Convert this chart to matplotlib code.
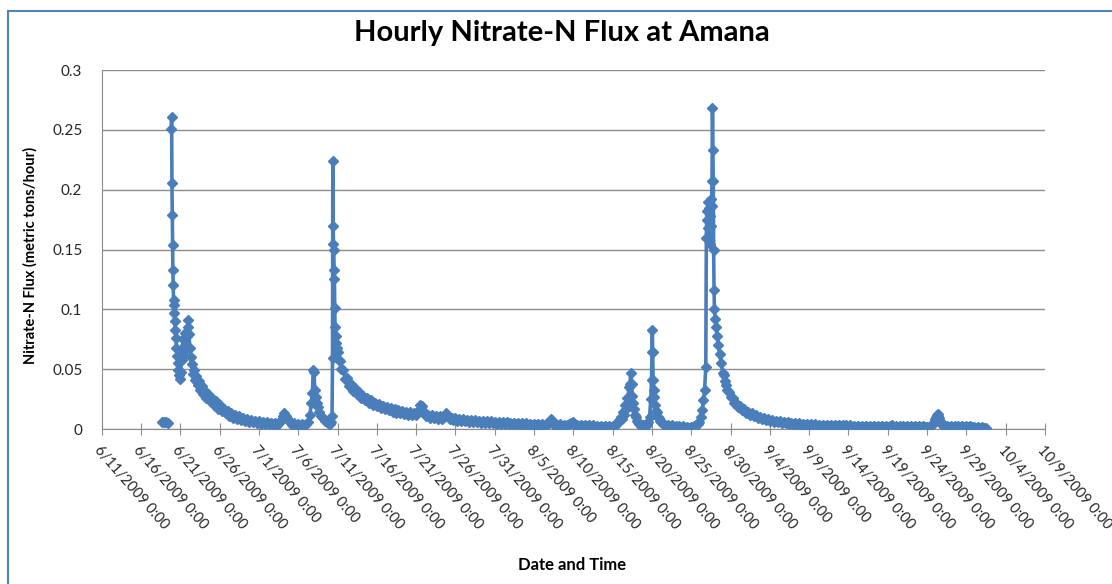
import numpy as np
import pandas as pd
import matplotlib
matplotlib.use('Agg')
import matplotlib.pyplot as plt
from matplotlib.patches import Rectangle

start = pd.Timestamp('2009-06-11')

# (days after 6/11/2009 0:00, flux in metric tons/hour)
early_cluster = [(7.70, 0.0060), (7.95, 0.0055), (8.20, 0.0060), (8.45, 0.0050)]

june_event = [
    (8.85, 0.251), (8.89, 0.261), (8.93, 0.206), (8.97, 0.179), (9.01, 0.154), (9.05, 0.133),
    (9.09, 0.120), (9.13, 0.108), (9.17, 0.104), (9.22, 0.097), (9.28, 0.090), (9.35, 0.083),
    (9.42, 0.076), (9.50, 0.068), (9.58, 0.061), (9.66, 0.055), (9.75, 0.049), (9.85, 0.045),
    (9.95, 0.042), (10.05, 0.048), (10.15, 0.058), (10.25, 0.066), (10.35, 0.075), (10.45, 0.062),
    (10.55, 0.070), (10.65, 0.080), (10.75, 0.068), (10.85, 0.078), (10.95, 0.085), (11.02, 0.091),
    (11.10, 0.079), (11.20, 0.068), (11.30, 0.060), (11.45, 0.054), (11.60, 0.046), (11.75, 0.049),
    (11.90, 0.041), (12.05, 0.044), (12.20, 0.037), (12.35, 0.040), (12.50, 0.033), (12.70, 0.036),
    (12.90, 0.029), (13.10, 0.032), (13.30, 0.026), (13.50, 0.029), (13.75, 0.023), (14.00, 0.026),
    (14.25, 0.020), (14.50, 0.023), (14.75, 0.017), (15.00, 0.020), (15.25, 0.015), (15.50, 0.017),
    (15.75, 0.013), (16.00, 0.015), (16.25, 0.011), (16.50, 0.013), (16.75, 0.0095), (17.00, 0.0115),
    (17.25, 0.0085), (17.50, 0.0105), (17.75, 0.0075), (18.00, 0.0095), (18.25, 0.0070), (18.50, 0.0085),
    (18.75, 0.0062), (19.00, 0.0078), (19.25, 0.0055), (19.50, 0.0070), (19.75, 0.0050), (20.00, 0.0065),
    (20.25, 0.0045), (20.50, 0.0060), (20.75, 0.0042), (21.00, 0.0056), (21.25, 0.0040), (21.50, 0.0052),
    (21.75, 0.0038), (22.00, 0.0050), (22.25, 0.0036), (22.50, 0.0048), (22.80, 0.0075), (23.00, 0.011),
    (23.20, 0.013), (23.40, 0.011), (23.60, 0.0090), (23.80, 0.0065), (24.00, 0.0055), (24.25, 0.0035),
    (24.50, 0.0048), (24.75, 0.0030), (25.00, 0.0044), (25.25, 0.0028), (25.50, 0.0040), (25.75, 0.0026),
    (26.00, 0.0038), (26.30, 0.0060), (26.50, 0.012), (26.65, 0.022), (26.80, 0.030), (26.90, 0.049),
    (27.00, 0.048), (27.10, 0.033), (27.20, 0.027), (27.35, 0.022), (27.50, 0.018), (27.70, 0.014),
    (27.90, 0.011), (28.10, 0.0090), (28.35, 0.0070), (28.60, 0.0055), (28.85, 0.0045), (29.05, 0.0040),
    (29.20, 0.0060), (29.30, 0.011)]

july_event = [
    (29.36, 0.059), (29.40, 0.224), (29.44, 0.170), (29.48, 0.155), (29.52, 0.150), (29.56, 0.133),
    (29.60, 0.125), (29.64, 0.101), (29.68, 0.085), (29.74, 0.078), (29.82, 0.072), (29.90, 0.068),
    (30.00, 0.064), (30.15, 0.058), (30.30, 0.057), (30.50, 0.050), (30.75, 0.049), (31.00, 0.042),
    (31.25, 0.043), (31.50, 0.036), (31.75, 0.038), (32.00, 0.032), (32.25, 0.034), (32.50, 0.029),
    (32.75, 0.031), (33.00, 0.026), (33.25, 0.028), (33.50, 0.024), (33.75, 0.026), (34.00, 0.022),
    (34.25, 0.024), (34.50, 0.020), (34.75, 0.022), (35.00, 0.019), (35.25, 0.021), (35.50, 0.0175),
    (35.75, 0.0195), (36.00, 0.0165), (36.25, 0.0185), (36.50, 0.0155), (36.75, 0.0175), (37.00, 0.0145),
    (37.25, 0.0165), (37.50, 0.0135), (37.75, 0.0155), (38.00, 0.0130), (38.25, 0.0150), (38.50, 0.0125),
    (38.75, 0.0145), (39.00, 0.0120), (39.25, 0.0140), (39.50, 0.0115), (39.75, 0.0135), (40.00, 0.0120),
    (40.30, 0.016), (40.50, 0.020), (40.70, 0.019), (40.90, 0.015), (41.10, 0.013), (41.30, 0.0105),
    (41.50, 0.0120), (41.75, 0.0095), (42.00, 0.0115), (42.25, 0.0090), (42.50, 0.0110), (42.75, 0.0085),
    (43.00, 0.0105), (43.25, 0.0085), (43.50, 0.0100), (43.80, 0.013), (44.10, 0.011), (44.30, 0.0085),
    (44.50, 0.0095), (44.75, 0.0075), (45.00, 0.0090), (45.25, 0.0070), (45.50, 0.0085), (45.75, 0.0067),
    (46.00, 0.0082), (46.25, 0.0064), (46.50, 0.0079), (46.75, 0.0061), (47.00, 0.0076), (47.25, 0.0058),
    (47.50, 0.0073), (47.75, 0.0056), (48.00, 0.0071), (48.25, 0.0054), (48.50, 0.0068), (48.75, 0.0052),
    (49.00, 0.0066), (49.25, 0.0050), (49.50, 0.0064), (49.75, 0.0048), (50.00, 0.0062), (50.25, 0.0046),
    (50.50, 0.0060), (50.75, 0.0045), (51.00, 0.0058), (51.25, 0.0043), (51.50, 0.0056), (51.75, 0.0042),
    (52.00, 0.0054), (52.25, 0.0040), (52.50, 0.0052), (52.75, 0.0038), (53.00, 0.0050), (53.25, 0.0037),
    (53.50, 0.0048), (53.75, 0.0035), (54.00, 0.0047), (54.25, 0.0034), (54.50, 0.0045), (54.75, 0.0032),
    (55.00, 0.0044), (55.25, 0.0030), (55.50, 0.0042), (55.75, 0.0029), (56.00, 0.0040), (56.25, 0.0028),
    (56.50, 0.0038), (56.75, 0.0040), (57.00, 0.0058), (57.20, 0.0080), (57.40, 0.0060), (57.60, 0.0035),
    (57.80, 0.0042), (58.00, 0.0028), (58.25, 0.0038), (58.50, 0.0026), (58.75, 0.0036), (59.00, 0.0025),
    (59.25, 0.0035), (59.50, 0.0045), (59.70, 0.0050), (59.90, 0.0060), (60.10, 0.0045), (60.30, 0.0028),
    (60.50, 0.0036), (60.75, 0.0024), (61.00, 0.0034), (61.25, 0.0022), (61.50, 0.0032), (61.75, 0.0021),
    (62.00, 0.0031), (62.25, 0.0020), (62.50, 0.0030), (62.75, 0.0019), (63.00, 0.0029), (63.25, 0.0018),
    (63.50, 0.0028), (63.75, 0.0017), (64.00, 0.0027), (64.25, 0.0016), (64.50, 0.0026), (64.75, 0.0016),
    (65.00, 0.0026), (65.20, 0.0022)]

mid_aug_events = [
    (65.40, 0.0035), (65.60, 0.0050), (65.80, 0.0075), (66.00, 0.010), (66.15, 0.008), (66.30, 0.014),
    (66.45, 0.012), (66.60, 0.020), (66.75, 0.017), (66.85, 0.026), (66.95, 0.022), (67.05, 0.035),
    (67.20, 0.038), (67.30, 0.0465), (67.40, 0.038), (67.50, 0.028), (67.60, 0.022), (67.75, 0.017),
    (67.90, 0.012), (68.00, 0.010), (68.15, 0.0070), (68.25, 0.0060), (68.40, 0.0045), (68.50, 0.0040),
    (68.65, 0.0025), (68.80, 0.0030), (68.95, 0.0020), (69.10, 0.0030), (69.25, 0.0022), (69.40, 0.0040),
    (69.55, 0.0060), (69.70, 0.010), (69.85, 0.025), (69.95, 0.041), (70.00, 0.064), (70.05, 0.083),
    (70.10, 0.064), (70.15, 0.041), (70.22, 0.033), (70.30, 0.027), (70.45, 0.020), (70.55, 0.015),
    (70.65, 0.014), (70.80, 0.010), (70.90, 0.0090), (71.05, 0.0065), (71.20, 0.0060), (71.35, 0.0042),
    (71.50, 0.0045), (71.75, 0.0028), (72.00, 0.0035), (72.25, 0.0020), (72.50, 0.0030), (72.75, 0.0016),
    (73.00, 0.0028), (73.25, 0.0014), (73.50, 0.0025), (73.75, 0.0012), (74.00, 0.0022), (74.25, 0.0010),
    (74.50, 0.0020), (74.75, 0.0010), (75.00, 0.0020), (75.20, 0.0015), (75.40, 0.0025), (75.55, 0.0030),
    (75.70, 0.0040), (75.85, 0.0045)]

late_aug_event = [
    (76.00, 0.0060), (76.20, 0.010), (76.40, 0.016), (76.55, 0.024), (76.70, 0.033), (76.85, 0.052),
    (76.92, 0.160), (76.98, 0.182), (77.04, 0.175), (77.10, 0.190), (77.16, 0.168), (77.22, 0.185),
    (77.28, 0.160), (77.34, 0.178), (77.40, 0.155), (77.46, 0.192), (77.52, 0.170), (77.58, 0.186),
    (77.64, 0.207), (77.70, 0.268), (77.75, 0.233), (77.80, 0.207), (77.85, 0.150), (77.90, 0.116),
    (77.95, 0.100), (78.05, 0.092), (78.15, 0.085), (78.30, 0.078), (78.45, 0.070), (78.60, 0.063),
    (78.80, 0.055), (79.00, 0.047), (79.15, 0.045), (79.30, 0.040), (79.45, 0.037), (79.60, 0.033),
    (79.80, 0.031), (80.00, 0.027), (80.25, 0.026), (80.50, 0.022), (80.75, 0.022), (81.00, 0.018),
    (81.25, 0.019), (81.50, 0.0155), (81.75, 0.0165), (82.00, 0.0135), (82.25, 0.0145), (82.50, 0.0120),
    (82.75, 0.0130), (83.00, 0.0105), (83.25, 0.0115), (83.50, 0.0092), (83.75, 0.0102), (84.00, 0.0082),
    (84.25, 0.0092), (84.50, 0.0074), (84.75, 0.0084), (85.00, 0.0067), (85.25, 0.0077), (85.50, 0.0061),
    (85.75, 0.0071), (86.00, 0.0056), (86.25, 0.0066), (86.50, 0.0051), (86.75, 0.0061), (87.00, 0.0047),
    (87.25, 0.0057), (87.50, 0.0043), (87.75, 0.0053), (88.00, 0.0040), (88.25, 0.0050), (88.50, 0.0037),
    (88.75, 0.0047), (89.00, 0.0035), (89.25, 0.0045), (89.50, 0.0033), (89.75, 0.0043), (90.00, 0.0031),
    (90.25, 0.0041), (90.50, 0.0029), (90.75, 0.0039), (91.00, 0.0027), (91.25, 0.0037), (91.50, 0.0026),
    (91.75, 0.0036), (92.00, 0.0025)]

september = [
    (92.25, 0.0035), (92.50, 0.0024), (92.75, 0.0034), (93.00, 0.0023), (93.25, 0.0033), (93.50, 0.0022),
    (93.75, 0.0032), (94.00, 0.0021), (94.25, 0.0031), (94.50, 0.0021), (94.75, 0.0030), (95.00, 0.0020),
    (95.25, 0.0030), (95.50, 0.0020), (95.75, 0.0029), (96.00, 0.0019), (96.25, 0.0029), (96.50, 0.0019),
    (96.75, 0.0028), (97.00, 0.0018), (97.25, 0.0028), (97.50, 0.0018), (97.75, 0.0027), (98.00, 0.0017),
    (98.25, 0.0027), (98.50, 0.0017), (98.75, 0.0026), (99.00, 0.0016), (99.25, 0.0026), (99.50, 0.0016),
    (99.75, 0.0025), (100.00, 0.0016), (100.25, 0.0028), (100.50, 0.0030), (100.75, 0.0018), (101.00, 0.0024),
    (101.25, 0.0015), (101.50, 0.0024), (101.75, 0.0015), (102.00, 0.0023), (102.25, 0.0014), (102.50, 0.0023),
    (102.75, 0.0014), (103.00, 0.0022), (103.25, 0.0014), (103.50, 0.0022), (103.75, 0.0013), (104.00, 0.0021),
    (104.25, 0.0013), (104.50, 0.0021), (104.75, 0.0013), (105.00, 0.0020), (105.25, 0.0014), (105.50, 0.0024),
    (105.70, 0.0040), (105.90, 0.0060), (106.05, 0.0080), (106.15, 0.010), (106.25, 0.0115), (106.35, 0.0125),
    (106.45, 0.011), (106.55, 0.0090), (106.70, 0.0065), (106.80, 0.0050), (106.95, 0.0035), (107.10, 0.0030),
    (107.25, 0.0018), (107.50, 0.0026), (107.75, 0.0016), (108.00, 0.0025), (108.25, 0.0015), (108.50, 0.0024),
    (108.75, 0.0015), (109.00, 0.0024), (109.25, 0.0014), (109.50, 0.0023), (109.75, 0.0014), (110.00, 0.0022),
    (110.25, 0.0013), (110.50, 0.0021), (110.75, 0.0013), (111.00, 0.0020), (111.25, 0.0012), (111.50, 0.0019),
    (111.75, 0.0012), (112.00, 0.0018), (112.25, 0.0011), (112.50, 0.0012)]

tick_labels = ['6/11/2009 0:00', '6/16/2009 0:00', '6/21/2009 0:00', '6/26/2009 0:00',
               '7/1/2009 0:00', '7/6/2009 0:00', '7/11/2009 0:00', '7/16/2009 0:00',
               '7/21/2009 0:00', '7/26/2009 0:00', '7/31/2009 0:00', '8/5/2009 0:00',
               '8/10/2009 0:00', '8/15/2009 0:00', '8/20/2009 0:00', '8/25/2009 0:00',
               '8/30/2009 0:00', '9/4/2009 0:00', '9/9/2009 0:00', '9/14/2009 0:00',
               '9/19/2009 0:00', '9/24/2009 0:00', '9/29/2009 0:00', '10/4/2009 0:00',
               '10/9/2009 0:00']
y_ticks = [0, 0.05, 0.1, 0.15, 0.2, 0.25, 0.3]
y_labels = ['0', '0.05', '0.1', '0.15', '0.2', '0.25', '0.3']

plt.rcParams['font.family'] = ['Lato', 'DejaVu Sans']

# a gap in the record separates the first few readings from the rest
records = (early_cluster + [(8.60, np.nan)] + june_event + july_event
           + mid_aug_events + late_aug_event + september)
days = [d for d, v in records]
flux = [v for d, v in records]
times = start + pd.to_timedelta(days, unit='D')
tick_times = pd.date_range(start, periods=len(tick_labels), freq='5D')

fig = plt.figure(figsize=(11.12, 5.84), dpi=100)
ax = fig.add_axes([0.0915, 0.2654, 0.8482, 0.6147])

blue = '#4A7EBB'
ax.plot(times, flux, color=blue, lw=2.6, marker='D', ms=5.5,
        markeredgecolor=blue, markerfacecolor=blue, zorder=3)

ax.set_xlim(tick_times[0], tick_times[-1])
ax.set_ylim(0, 0.3)
ax.set_xticks(tick_times)
ax.set_xticklabels(tick_labels, rotation=-49, ha='left', va='top',
                   rotation_mode='anchor', fontsize=10.5, color='#262626')
ax.set_yticks(y_ticks)
ax.set_yticklabels(y_labels, fontsize=11, color='#262626')

ax.grid(axis='y', color='#8c8c8c', lw=1)
ax.set_axisbelow(True)
for side in ['top', 'right']:
    ax.spines[side].set_visible(False)
for side in ['left', 'bottom']:
    ax.spines[side].set_color('#8c8c8c')
ax.tick_params(axis='x', direction='inout', length=9, color='#8c8c8c', pad=6)
ax.tick_params(axis='y', length=0, pad=14)

fig.text(0.505, 0.944, 'Hourly Nitrate-N Flux at Amana', ha='center', va='center',
         fontsize=21, fontweight='bold')
fig.text(0.514, 0.033, 'Date and Time', ha='center', va='center',
         fontsize=12, fontweight='bold')
fig.text(0.027, 0.563, 'Nitrate-N Flux (metric tons/hour)', ha='center', va='center',
         rotation=90, fontsize=10.5, fontweight='bold')

# chart frame (only its left and top edges fall inside the picture)
fig.patches.append(Rectangle((8 / 1112, -0.1), 1.2, 1.1 - 11 / 584, transform=fig.transFigure,
                             fill=False, edgecolor='#4F81BD', lw=1.5))

fig.savefig('out.png', dpi=100)
